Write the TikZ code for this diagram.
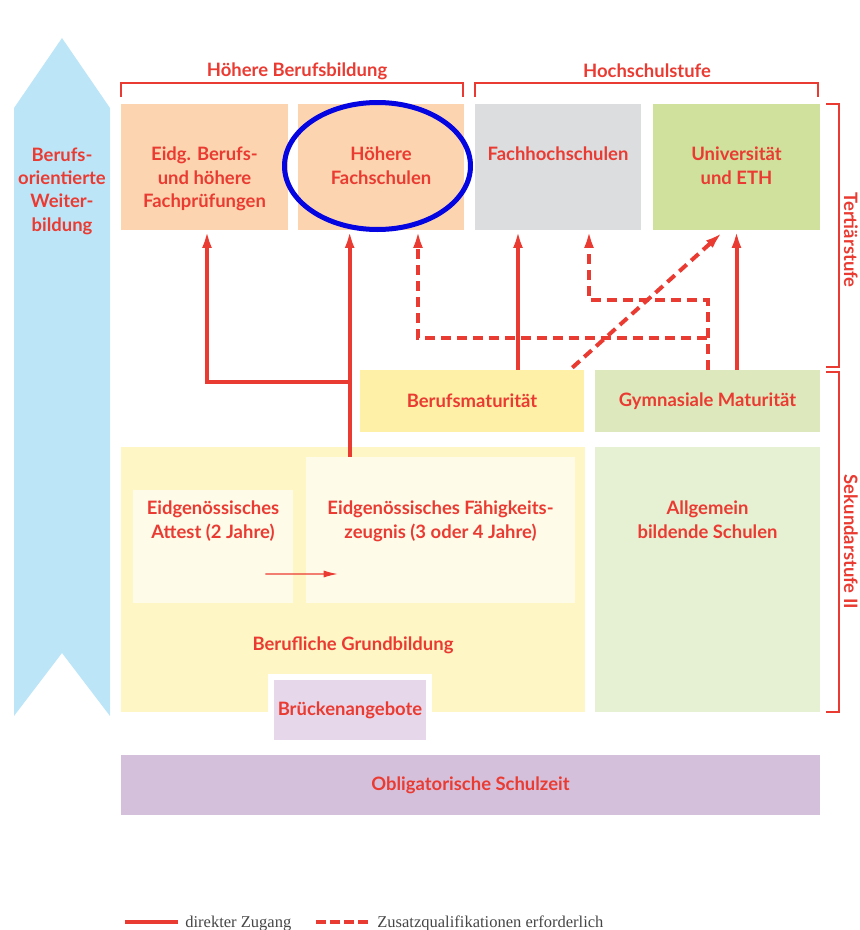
\documentclass[tikz,border=0pt]{standalone}
\usepackage{fontspec}
\setmainfont{Lato}
\newfontfamily\legendfont{Liberation Serif}
\usepackage{tikz}
\usetikzlibrary{calc, arrows.meta, positioning}

\definecolor{rot}{RGB}{234,59,50}
\definecolor{kreis}{RGB}{5,5,225}
\definecolor{himmel}{RGB}{189,229,248}
\definecolor{pfirsich}{RGB}{252,213,176}
\definecolor{grau}{RGB}{220,221,223}
\definecolor{gruen}{RGB}{207,225,157}
\definecolor{hellgruen}{RGB}{221,233,189}
\definecolor{blassgruen}{RGB}{230,240,211}
\definecolor{gelb}{RGB}{255,240,168}
\definecolor{hellgelb}{RGB}{255,246,198}
\definecolor{creme}{RGB}{255,251,233}
\definecolor{flieder}{RGB}{230,216,234}
\definecolor{lila}{RGB}{213,192,220}
\definecolor{tinte}{RGB}{70,70,70}

\begin{document}
\begin{tikzpicture}[x=0.02cm,y=-0.02cm,inner sep=0pt,>={Latex[length=10pt,width=5.6pt]},
  txt/.style={text=rot,font=\bfseries\fontsize{10.5}{13.3}\selectfont,align=center},
  box/.style={txt,fill=#1},
  zug/.style={draw=rot,line width=0.08cm,->},
  zusatz/.style={zug,dash pattern=on 0.2cm off 0.12cm},
  klammer/.style={draw=rot,line width=0.03cm},
  leg/.style={text=tinte,font=\legendfont\fontsize{9.4}{11}\selectfont}]
\useasboundingbox (0,0) rectangle (859,930);

% Weiterbildung
\fill [himmel] (14,108) -- (62,38) -- (110,108) -- (110,716) -- (62,653) -- (14,716) -- cycle;
\node [txt] (wb) at (62,191) {Berufs-\\orientierte\\Weiter-\\bildung};

% Tertiaerstufe
\node [box=pfirsich,minimum width=3.34cm,minimum height=2.52cm] (hbb1) at (204.5,167) {};
\node [box=pfirsich,minimum width=3.32cm,minimum height=2.52cm] (hbb2) at (381,167) {};
\node [box=grau,minimum width=3.32cm,minimum height=2.52cm] (hs1) at (558,167) {};
\node [box=gruen,minimum width=3.34cm,minimum height=2.52cm] (hs2) at (736.5,167) {};
\node [txt,anchor=north] (hbb1 txt) at ($(hbb1.north)+(0,43)$) {Eidg. Berufs-\\und höhere\\Fachprüfungen};
\node [txt,anchor=north] (hbb2 txt) at ($(hbb2.north)+(0,43)$) {Höhere\\Fachschulen};
\node [txt,anchor=north] (hs1 txt) at ($(hs1.north)+(0,43)$) {Fachhochschulen};
\node [txt,anchor=north] (hs2 txt) at ($(hs2.north)+(0,43)$) {Universität\\und ETH};

% Sekundarstufe II
\node [box=gelb,minimum width=4.48cm,minimum height=1.24cm] (bm) at (472,401) {Berufsmaturität};
\node [box=hellgruen,minimum width=4.5cm,minimum height=1.24cm] (gm) at (707.5,401) {Gymnasiale Maturität};
\node [box=hellgelb,minimum width=9.28cm,minimum height=5.3cm] (bg) at (353,579.5) {};
\node [box=blassgruen,minimum width=4.5cm,minimum height=5.3cm] (abs) at (707.5,579.5) {};
\node [box=creme,minimum width=3.2cm,minimum height=2.26cm] (att) at (213,546.5) {};
\node [box=creme,minimum width=5.38cm,minimum height=2.92cm] (efz) at (440.5,530) {};
\node [txt,anchor=north] (att txt) at ($(att.north)+(0,11)$) {Eidgenössisches\\Attest (2 Jahre)};
\node [txt,anchor=north] (efz txt) at ($(efz.north)+(0,44)$) {Eidgenössisches Fähigkeits-\\zeugnis (3 oder 4 Jahre)};
\node [txt,anchor=north] (abs txt) at ($(abs.north)+(0,54)$) {Allgemein\\bildende Schulen};
\node [txt] (bg txt) at ($(bg.south)+(0,-67)$) {Berufliche Grundbildung};
\node [box=flieder,draw=white,line width=0.12cm,minimum width=3.16cm,minimum height=1.32cm] (bru) at (350,710) {Brückenangebote};
\node [box=lila,minimum width=13.98cm,minimum height=1.2cm] (obl) at (470.5,785) {Obligatorische Schulzeit};

% Klammern
\draw [klammer] (121,97) -- (121,83) -- (463,83) -- (463,97);
\draw [klammer] (475,97) -- (475,83) -- (818,83) -- (818,97);
\node [txt] (hbb) at (297,71) {Höhere Berufsbildung};
\node [txt] (hs) at (647,71) {Hochschulstufe};
\draw [klammer] (826,104) -- (839,104) -- (839,367) -- (826,367);
\draw [klammer] (826,372) -- (839,372) -- (839,712) -- (826,712);
\node [txt,rotate=-90] (tert) at (851,240) {Tertiärstufe};
\node [txt,rotate=-90] (sek) at (851,542) {Sekundarstufe II};

% Hoehere Fachschulen
\draw [kreis,line width=0.1cm] (377.5,166) ellipse [x radius=93,y radius=63.5];

% Zugaenge
\coordinate (efz out) at ($(efz.north west)+(44,0)$);
\coordinate (split) at ($(efz out)+(0,-75)$);
\draw [zug] (efz out) -- (efz out |- hbb2.south);
\draw [zug] (split) -| ($(hbb1.south)+(2.5,0)$);
\draw [zusatz] (gm.north) |- ($(hbb2.south)+(37,108)$) -- ($(hbb2.south)+(37,0)$);
\draw [zusatz] (gm.north) |- ($(hs1.south)+(31,70)$) -- ($(hs1.south)+(31,0)$);
\draw [zug] ($(bm.north)+(46,0)$) -- ($(hs1.south)+(-40,0)$);
\draw [zusatz] ($(bm.north east)+(-12,-2)$) -- ($(hs2.south)+(-14,2)$);
\draw [zug] (gm.north -| hs2.south) -- (hs2.south);
\draw [draw=rot,line width=0.6pt,-{Latex[length=8pt,width=4pt]}] ($(att.east)+(-28,27.5)$) -- ($(efz.west)+(32,44)$);

% Legende
\draw [zug,-] (125,922) -- (178,922);
\node [leg,anchor=base west] (leg1) at (185,927) {direkter Zugang};
\draw [zusatz,-,dash pattern=on 0.2cm off 0.08cm] (316,922) -- (370,922);
\node [leg,anchor=base west] (leg2) at (377,927) {Zusatzqualifikationen erforderlich};
\end{tikzpicture}
\end{document}
